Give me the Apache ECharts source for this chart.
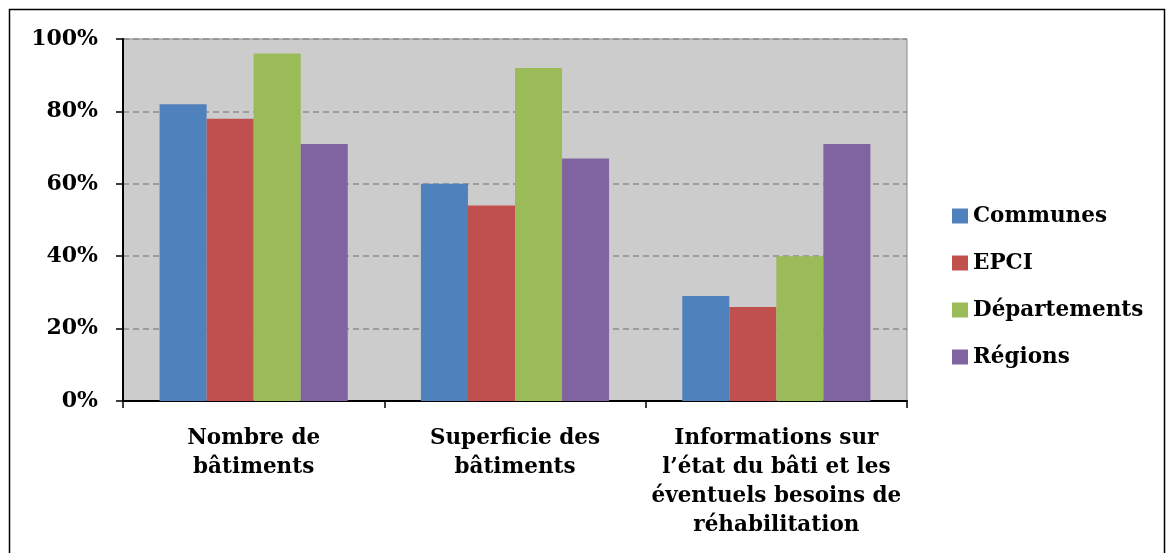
<!DOCTYPE html>
<html>
<head>
<meta charset="utf-8">
<script src="https://cdn.jsdelivr.net/npm/echarts@6/dist/echarts.min.js"></script>
<style>
html, body { margin: 0; padding: 0; background: #fff; }
#chart { width: 1166px; height: 553px; }
</style>
</head>
<body>
<div id="chart"></div>
<script>
// données du graphique
var categories = ['Nombre de\nbâtiments', 'Superficie des\nbâtiments', 'Informations sur\nl\u2019état du bâti et les\néventuels besoins de\nréhabilitation'];
var seriesNames = ['Communes', 'EPCI', 'Départements', 'Régions'];
var communes = [82, 60, 29];
var epci = [78, 54, 26];
var departements = [96, 92, 40];
var regions = [71, 67, 71];
var colors = ['#4F81BD', '#C0504D', '#9BBB59', '#8064A2'];

var police = '"DejaVu Serif", "Liberation Serif", serif';
var valeurs = [communes, epci, departements, regions];
var series = [];
for (var i = 0; i < seriesNames.length; i++) {
	series.push({
		name: seriesNames[i],
		type: 'bar',
		data: valeurs[i],
		barGap: '0%',
		barCategoryGap: '28%',
		itemStyle: { color: colors[i] }
	});
}

var myChart = echarts.init(document.getElementById('chart'));
var option = {
	animation: false,
	textStyle: { fontFamily: police },
	graphic: [{
		type: 'rect',
		shape: { x: 9.5, y: 9.5, width: 1155, height: 570 },
		style: { fill: null, stroke: '#000', lineWidth: 1.5 },
		silent: true
	}],
	grid: {
		left: 123, top: 39, width: 784, height: 362,
		show: true,
		backgroundColor: '#CCCCCC',
		borderColor: '#888',
		borderWidth: 1
	},
	legend: {
		orient: 'vertical',
		left: 947, top: 200,
		itemWidth: 16, itemHeight: 15,
		itemGap: 25,
		icon: 'rect',
		textStyle: { fontFamily: police, fontWeight: 'bold', fontSize: 21.5, lineHeight: 22, color: '#000' },
		data: seriesNames
	},
	xAxis: {
		type: 'category',
		data: categories,
		axisLine: { lineStyle: { color: '#000', width: 2 } },
		axisTick: { show: true, length: 7, lineStyle: { color: '#000', width: 1.5 } },
		axisLabel: {
			interval: 0, margin: 23,
			fontFamily: police, fontWeight: 'bold', fontSize: 21.5, color: '#000',
			lineHeight: 29
		}
	},
	yAxis: {
		type: 'value',
		min: 0, max: 100, interval: 20,
		axisLine: { show: true, lineStyle: { color: '#000', width: 2 } },
		axisTick: { show: true, length: 7, lineStyle: { color: '#000', width: 1.5 } },
		axisLabel: {
			formatter: '{value}%', margin: 25,
			fontFamily: police, fontWeight: 'bold', fontSize: 22, color: '#000'
		},
		splitLine: { lineStyle: { color: '#8C8C8C', type: [6, 4], width: 1.5 } }
	},
	series: series
};
myChart.setOption(option);
</script>
</body>
</html>
